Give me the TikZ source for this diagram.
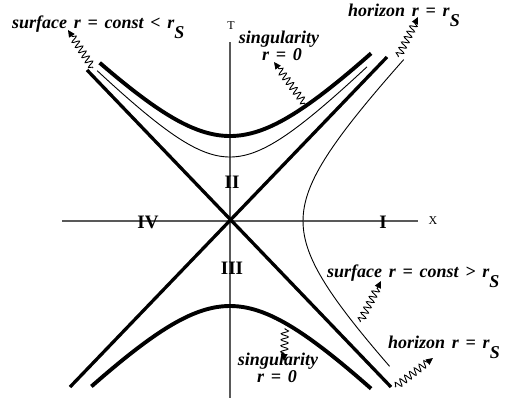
\documentclass[tikz,border=0pt]{standalone}
\usepackage{fontspec}
\setmainfont{Liberation Serif}
\newfontfamily\lblfont[WordSpace=1.5]{Liberation Serif}
\usetikzlibrary{arrows.meta,decorations.pathmorphing}
\tikzset{
  thickcurve/.style={line width=3.9pt},
  diag/.style={line width=3.3pt},
  thincurve/.style={line width=0.9pt},
  axisline/.style={line width=1.5pt, draw=black!65},
  lbl/.style={inner sep=0pt, font=\fontsize{18}{20}\lblfont\bfseries\itshape},
  region/.style={inner sep=0pt, font=\fontsize{19}{20}\selectfont\bfseries},
  axlbl/.style={inner sep=0pt, font=\fontsize{12}{12}\selectfont},
  wave/.style={line width=0.9pt, decorate,
    decoration={snake, amplitude=3.6pt, segment length=6pt, pre length=1pt, post length=6pt},
    -{Triangle[length=7pt,width=6.5pt]}}
}
\newcommand{\rsub}{r\raisebox{-10pt}{S}}
\begin{document}
\begin{tikzpicture}[x=1pt,y=-1pt]
\useasboundingbox (0,0) rectangle (505,400);
% axes
\coordinate (xl) at (62,221);
\coordinate (xr) at (418,221);
\coordinate (tt) at (230,42);
\coordinate (tb) at (230,398);
\draw[axisline] (xl) -- (xr);
\draw[axisline] (tt) -- (tb);
\node[axlbl] (X) at (433,221) {X};
\node[axlbl] (T) at (231,26) {T};
% horizons (diagonals)
\coordinate (d1a) at (87,70);
\coordinate (d1b) at (391,387);
\coordinate (d2a) at (70,387);
\coordinate (d2b) at (387,57);
\draw[diag] (d1a) -- (d1b);
\draw[diag] (d2a) -- (d2b);
% singularities
\draw[thickcurve] plot[domain=-1.57:1.70, samples=60, smooth] ({230+83*\x},{221-85*sqrt(1+\x*\x)});
\draw[thickcurve] plot[domain=-1.67:1.70, samples=60, smooth] ({230+83*\x},{221+85*sqrt(1+\x*\x)});
% surface r = const < rS
\draw[thincurve] plot[domain=-1.60:1.65, samples=60, smooth] ({230+83*\x},{221-85*sqrt(0.567+\x*\x)});
% surface r = const > rS
\draw[thincurve] plot[domain=-1.71:1.90, samples=60, smooth] ({230+83*sqrt(0.774+\x*\x)},{221-85*\x});
% region labels
\node[region] (rII) at (232,182) {II};
\node[region] (rIII) at (232,268) {III};
\node[region] (rIV) at (148,222) {IV};
\node[region] (rI) at (383,222) {I};
% text labels
\node[lbl, anchor=base west] (surfin) at (12,28) {surface r = const < \rsub};
\node[lbl, anchor=base west] (hortop) at (348,16) {horizon r = \rsub};
\node[lbl, anchor=base] (singtop) at (279,43) {singularity};
\node[lbl, anchor=base] (singtopr) at (282,60) {r = 0};
\node[lbl, anchor=base west] (surfout) at (327,277) {surface r = const > \rsub};
\node[lbl, anchor=base west] (horbot) at (388,348) {horizon r = \rsub};
\node[lbl, anchor=base] (singbot) at (278,365) {singularity};
\node[lbl, anchor=base] (singbotr) at (277,382) {r = 0};
% wavy arrows
\coordinate (w1s) at (93,68);  \coordinate (w1e) at (68,30);
\coordinate (w2s) at (305,104); \coordinate (w2e) at (274,62);
\coordinate (w3s) at (398,57); \coordinate (w3e) at (418,17);
\coordinate (w4s) at (360,322); \coordinate (w4e) at (381,281);
\coordinate (w5s) at (395,387); \coordinate (w5e) at (433,358);
\coordinate (w6s) at (285,328); \coordinate (w6e) at (284,361);
\draw[wave] (w1s) -- (w1e);
\draw[wave] (w2s) -- (w2e);
\draw[wave] (w3s) -- (w3e);
\draw[wave] (w4s) -- (w4e);
\draw[wave] (w5s) -- (w5e);
\draw[wave] (w6s) -- (w6e);
\end{tikzpicture}
\end{document}
